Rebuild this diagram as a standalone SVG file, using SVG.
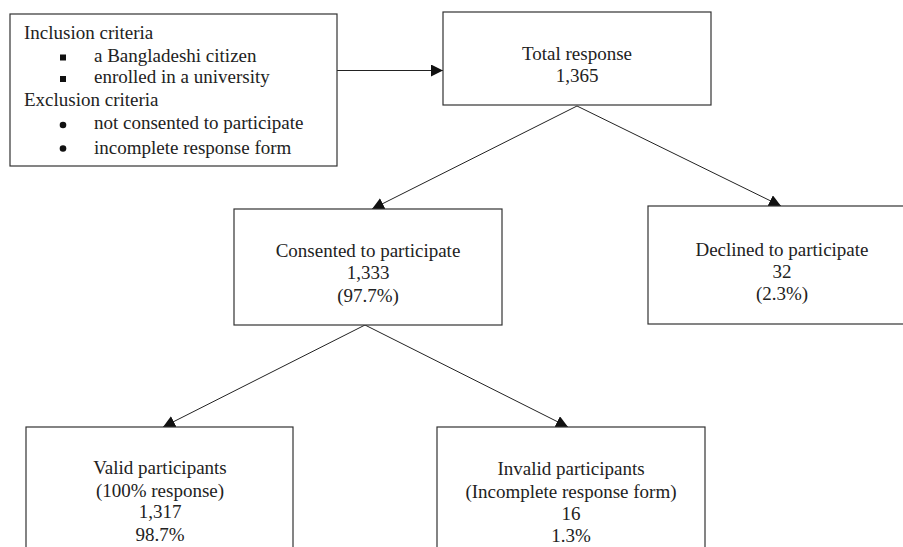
<svg xmlns="http://www.w3.org/2000/svg" width="903" height="547" viewBox="0 0 903 547">
<style>
  .box{fill:#fff;stroke:#333;stroke-width:1.2}
  .t{font-family:"Liberation Serif","Times New Roman",serif;font-size:19px;fill:#222}
  .c{text-anchor:middle}
  .con{stroke:#222;stroke-width:1;fill:none;marker-end:url(#ah)}
</style>
<defs>
  <marker id="ah" markerUnits="userSpaceOnUse" markerWidth="14" markerHeight="14" refX="12" refY="6" orient="auto">
    <path d="M0,0 L12,6 L0,12 z" fill="#111"/>
  </marker>
</defs>
<rect width="903" height="547" fill="#fff"/>
<g id="connectors">
  <line class="con" x1="337" y1="70.5" x2="443" y2="70.5"/>
  <line class="con" x1="577" y1="106" x2="372" y2="209"/>
  <line class="con" x1="577" y1="106" x2="781" y2="206"/>
  <line class="con" x1="365" y1="325" x2="163" y2="427"/>
  <line class="con" x1="365" y1="325" x2="568" y2="427"/>
</g>
<g id="criteria">
  <rect class="box" x="10" y="14" width="327" height="152"/>
  <text class="t" x="24" y="39">Inclusion criteria</text>
  <rect x="60" y="54.5" width="6" height="6" fill="#111"/>
  <text class="t" x="94" y="62">a Bangladeshi citizen</text>
  <rect x="60" y="76" width="6" height="6" fill="#111"/>
  <text class="t" x="94" y="83">enrolled in a university</text>
  <text class="t" x="24" y="106">Exclusion criteria</text>
  <circle cx="63" cy="125" r="3.3" fill="#111"/>
  <text class="t" x="94" y="129">not consented to participate</text>
  <circle cx="63" cy="148.5" r="3.3" fill="#111"/>
  <text class="t" x="94" y="154">incomplete response form</text>
</g>
<g id="total">
  <rect class="box" x="443" y="12" width="268" height="93"/>
  <text class="t c" x="577" y="59.5">Total response</text>
  <text class="t c" x="577" y="82">1,365</text>
</g>
<g id="consented">
  <rect class="box" x="234" y="209" width="268" height="116"/>
  <text class="t c" x="368" y="257">Consented to participate</text>
  <text class="t c" x="368" y="279">1,333</text>
  <text class="t c" x="368" y="302">(97.7%)</text>
</g>
<g id="declined">
  <rect class="box" x="648" y="206" width="268" height="118"/>
  <text class="t c" x="782" y="256">Declined to participate</text>
  <text class="t c" x="782" y="278">32</text>
  <text class="t c" x="782" y="300">(2.3%)</text>
</g>
<g id="valid">
  <rect class="box" x="26" y="427" width="267" height="140"/>
  <text class="t c" x="160" y="474">Valid participants</text>
  <text class="t c" x="160" y="497">(100% response)</text>
  <text class="t c" x="160" y="518">1,317</text>
  <text class="t c" x="160" y="541">98.7%</text>
</g>
<g id="invalid">
  <rect class="box" x="437" y="427" width="268" height="140"/>
  <text class="t c" x="571" y="475">Invalid participants</text>
  <text class="t c" x="571" y="498">(Incomplete response form)</text>
  <text class="t c" x="571" y="520">16</text>
  <text class="t c" x="571" y="542">1.3%</text>
</g>
</svg>
